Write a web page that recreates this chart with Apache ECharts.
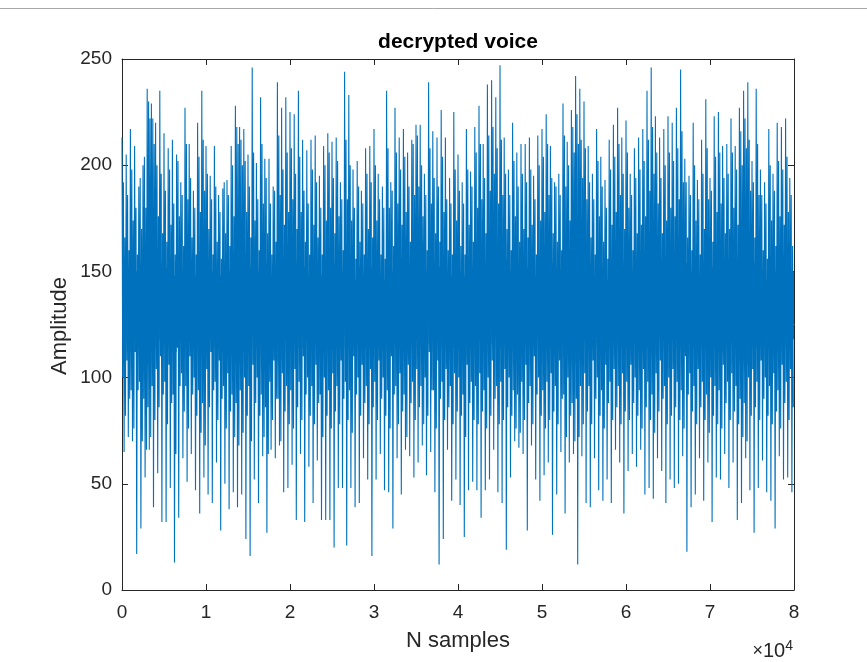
<!DOCTYPE html>
<html>
<head>
<meta charset="utf-8">
<script src="https://cdn.jsdelivr.net/npm/echarts@6/dist/echarts.min.js"></script>
<style>
html,body{margin:0;padding:0;background:#fff;}
#chart{width:867px;height:662px;}
</style>
</head>
<body>
<div id="chart"></div>
<script>
// ---- data ----
// signal summarised in 160 windows of 500 samples (0 .. 80000)
const samplesPerWindow = 500;
// highest excursion in each window
const upperPeak = [
213,205,217,209,190,200,236,229,220,235,
215,208,212,205,192,227,210,188,220,235,
209,195,209,186,189,193,209,228,218,217,
205,246,201,232,203,203,190,239,227,232,
225,224,235,212,207,212,214,195,209,215,
211,213,192,244,233,198,202,188,208,209,
217,196,190,235,192,227,213,217,206,212,
219,219,196,239,216,213,226,213,194,225,
205,192,217,197,218,228,210,238,240,232,
247,213,198,220,206,210,210,213,195,214,
217,224,209,192,196,229,211,226,242,236,
230,209,196,217,204,193,212,219,227,213,
221,196,208,213,217,235,246,223,213,217,
223,220,227,245,203,195,220,193,212,231,
194,223,225,209,210,222,209,227,235,239,
202,236,198,192,217,196,220,218,222,194];
// lowest excursion in each window
const lowerPeak = [
65,72,70,17,29,53,66,39,55,32,
32,48,13,34,62,51,64,47,36,53,
45,41,60,28,50,38,46,39,45,24,
16,52,41,63,27,66,62,68,46,48,
59,33,64,32,58,41,61,33,33,33,
20,48,48,21,48,39,41,62,52,16,
52,64,47,46,29,62,45,66,63,53,
60,68,54,65,46,12,24,66,42,52,
40,25,47,51,47,34,47,52,66,46,
41,19,53,70,67,64,28,68,52,42,
54,60,26,45,65,36,60,64,12,63,
41,39,62,47,42,52,41,66,60,36,
56,64,58,66,45,48,43,62,56,41,
52,48,50,63,18,39,45,62,42,60,
32,53,52,64,48,60,33,41,62,47,
27,48,61,46,42,29,63,52,53,46];
// second-highest excursion in each window
const upperMid = [
192,186,198,180,194,204,230,222,200,196,
188,198,182,202,186,210,194,180,204,212,
196,184,190,178,192,186,200,218,212,202,
190,206,184,210,194,182,188,214,198,206,
208,196,204,188,182,198,192,180,200,206,
194,202,184,212,200,180,190,182,196,192,
200,184,180,208,188,206,198,204,190,210,
214,200,186,208,194,190,204,184,182,198,
188,182,198,190,206,210,194,214,218,208,
212,196,186,202,190,196,192,198,184,200,
204,210,194,190,186,214,200,218,224,212,
208,192,184,202,190,180,198,204,210,196,
206,186,194,198,202,212,218,206,194,200,
206,202,208,216,192,186,200,184,196,208,
188,204,206,194,196,206,198,216,222,212,
192,210,186,182,200,188,202,198,204,186];
// second-lowest excursion in each window
const lowerMid = [
82,90,76,94,70,66,72,80,86,92,
78,88,64,96,84,76,92,82,74,68,
86,94,80,90,76,84,72,68,74,82,
70,88,82,72,64,80,90,70,84,78,
76,86,80,92,82,78,88,72,82,76,
84,78,90,80,74,92,82,88,78,86,
80,90,82,76,92,78,84,72,88,80,
86,78,82,94,76,90,80,86,78,84,
82,72,88,80,78,84,76,82,90,78,
80,86,82,76,74,80,88,78,92,82,
76,80,84,78,90,72,82,70,72,78,
84,78,90,82,76,88,80,86,78,84,
80,88,82,76,86,80,74,84,90,78,
82,86,80,76,92,84,78,86,80,74,
82,78,76,88,80,84,78,72,70,82,
86,80,90,82,78,84,76,88,80,86];
// upper edge of the busy band in each window
const upperBand = [
166,160,174,158,170,180,222,210,176,168,
164,172,158,176,162,184,166,158,178,188,
170,158,164,156,168,162,176,210,200,178,
166,174,160,182,168,158,164,186,172,178,
184,170,178,164,158,172,166,158,174,180,
168,176,160,184,174,156,164,158,170,166,
174,158,156,180,162,182,172,178,164,186,
190,176,160,182,168,164,178,160,158,174,
162,158,172,164,180,184,168,188,196,182,
186,170,160,176,164,170,166,172,158,174,
178,186,168,164,160,190,174,206,210,194,
184,166,158,176,164,156,172,178,186,170,
180,160,168,172,176,188,196,182,168,174,
180,176,184,192,166,160,174,158,170,184,
164,178,182,168,170,180,172,200,208,188,
166,186,160,156,174,162,176,172,178,162];
// lower edge of the busy band in each window
const lowerBand = [
100,108,94,112,98,90,86,96,104,110,
98,106,92,114,102,96,110,100,94,88,
104,112,98,108,96,102,92,88,94,100,
96,106,100,92,86,98,108,90,102,96,
94,104,98,110,100,96,106,92,100,94,
102,96,108,98,94,110,100,106,96,104,
98,108,100,94,110,96,102,92,106,98,
104,96,100,112,94,108,98,104,96,102,
100,92,106,98,96,102,94,100,108,96,
98,104,100,94,92,98,106,96,110,100,
94,98,102,96,108,92,100,88,90,96,
102,96,108,100,94,106,98,104,96,102,
98,106,100,94,104,98,92,102,108,96,
100,104,98,94,110,102,96,104,98,92,
100,96,94,106,98,102,96,90,88,100,
104,98,108,100,96,102,94,106,98,104];
// solid core of the trace in each window (top / bottom)
const coreTop = [
156,152,158,150,154,160,176,170,158,154,
152,156,148,158,150,162,154,148,158,164,
156,150,152,148,154,150,158,172,166,158,
152,156,150,160,154,148,152,162,156,158,
162,154,158,152,148,156,152,148,156,160,
154,158,150,162,156,146,152,148,154,152,
156,148,146,160,150,160,156,158,152,162,
164,158,150,160,154,152,158,150,148,156,
150,148,156,152,158,162,154,164,168,160,
162,156,150,158,152,154,152,156,148,156,
158,162,154,152,150,164,158,172,174,166,
162,154,148,158,152,146,156,158,162,154,
160,150,154,156,158,162,168,160,154,156,
160,158,162,166,154,150,156,148,154,162,
152,158,160,154,156,160,156,170,172,164,
154,162,150,146,156,150,158,156,158,150];
const coreBottom = [
116,120,112,122,116,110,106,114,118,122,
116,120,112,124,118,114,122,116,112,108,
118,122,114,120,114,118,110,106,112,116,
114,120,116,110,106,114,120,108,118,114,
112,118,114,122,116,114,120,110,116,112,
118,114,120,114,112,122,116,120,114,118,
114,120,116,112,122,114,118,110,120,114,
118,114,116,122,112,120,114,118,114,118,
116,110,120,114,112,118,112,116,120,114,
114,118,116,112,110,114,120,114,122,116,
112,114,118,114,120,110,116,106,108,114,
118,114,120,116,112,120,114,118,114,118,
114,120,116,112,118,114,110,118,120,114,
116,118,114,112,122,118,114,118,114,110,
116,114,112,120,114,118,114,108,106,116,
118,114,120,116,114,118,112,120,114,118];
const xTicks = [0,1,2,3,4,5,6,7,8];          // x 10^4
const yTicks = [0,50,100,150,200,250];

// ---- build the waveform from the arrays ----
const wave = [];
const core = [];
for (let i = 0; i < upperPeak.length; i++) {
  const s = i * samplesPerWindow;
  const q = samplesPerWindow / 6;
  const order = [upperPeak[i], lowerBand[i], upperMid[i], lowerPeak[i], upperBand[i], lowerMid[i]];
  order.forEach((v, k) => wave.push([s + k * q, v]));
  core.push([s, s + samplesPerWindow, coreBottom[i], coreTop[i]]);
}

const BLUE = '#0072BD';
const TXT = '#262626';
const FONT = '"Liberation Sans", Arial, Helvetica, sans-serif';
const chart = echarts.init(document.getElementById('chart'), null, {renderer: 'canvas'});
const xMax = xTicks[xTicks.length - 1] * 10000;
const yMax = yTicks[yTicks.length - 1];
function axisCommon() {
  return {
    axisLine: {show: true, onZero: false, lineStyle: {color: TXT, width: 1}},
    axisTick: {show: true, inside: true, length: 6, lineStyle: {color: TXT, width: 1}},
    splitLine: {show: false}
  };
}
chart.setOption({
  animation: false,
  backgroundColor: '#fff',
  grid: {left: 122, right: 73, top: 59, bottom: 72, containLabel: false},
  xAxis: [
    Object.assign({
      type: 'value', min: 0, max: xMax, interval: 10000, position: 'bottom',
      axisLabel: {color: TXT, fontSize: 19, fontFamily: FONT, margin: 13,
        formatter: v => String(v / 10000)}
    }, axisCommon()),
    Object.assign({
      type: 'value', min: 0, max: xMax, interval: 10000, position: 'top',
      axisLabel: {show: false}
    }, axisCommon())
  ],
  yAxis: [
    Object.assign({
      type: 'value', min: 0, max: yMax, interval: 50, position: 'left',
      axisLabel: {color: TXT, fontSize: 19, fontFamily: FONT, margin: 10}
    }, axisCommon()),
    Object.assign({
      type: 'value', min: 0, max: yMax, interval: 50, position: 'right',
      axisLabel: {show: false}
    }, axisCommon())
  ],
  series: [
    {
      type: 'custom', xAxisIndex: 0, yAxisIndex: 0, data: core, z: 1,
      encode: {x: [0, 1], y: [2, 3]},
      renderItem: function (params, api) {
        const p0 = api.coord([api.value(0), api.value(3)]);
        const p1 = api.coord([api.value(1), api.value(2)]);
        return {
          type: 'rect',
          shape: {x: p0[0], y: p0[1], width: p1[0] - p0[0], height: p1[1] - p0[1]},
          style: {fill: BLUE}
        };
      }
    },
    {
      type: 'line', xAxisIndex: 0, yAxisIndex: 0, data: wave,
      showSymbol: false, symbol: 'none', sampling: null,
      lineStyle: {color: BLUE, width: 1.1}, z: 2
    }
  ],
  graphic: [
    {type: 'line', shape: {x1: 0, y1: 8.5, x2: 867, y2: 8.5}, style: {stroke: '#a8a8a8', lineWidth: 1}, silent: true},
    {type: 'text', x: 458, y: 42, style: {text: 'decrypted voice', fill: '#000', font: 'bold 21px ' + FONT, textAlign: 'center', textVerticalAlign: 'middle'}},
    {type: 'text', x: 458, y: 641, style: {text: 'N samples', fill: TXT, font: '22px ' + FONT, textAlign: 'center', textVerticalAlign: 'middle'}},
    {type: 'text', x: 60, y: 326, rotation: Math.PI / 2, style: {text: 'Amplitude', fill: TXT, font: '22px ' + FONT, textAlign: 'center', textVerticalAlign: 'middle'}},
    {type: 'text', x: 793, y: 651, style: {
      text: '{a|×}{b|10}{c|4}', textAlign: 'right', textVerticalAlign: 'middle',
      rich: {
        a: {fill: TXT, fontSize: 18, fontFamily: FONT},
        b: {fill: TXT, fontSize: 20, fontFamily: FONT},
        c: {fill: TXT, fontSize: 14, fontFamily: FONT, verticalAlign: 'top', padding: [0, 0, 10, 0]}
      }}}
  ]
});
</script>
</body>
</html>
